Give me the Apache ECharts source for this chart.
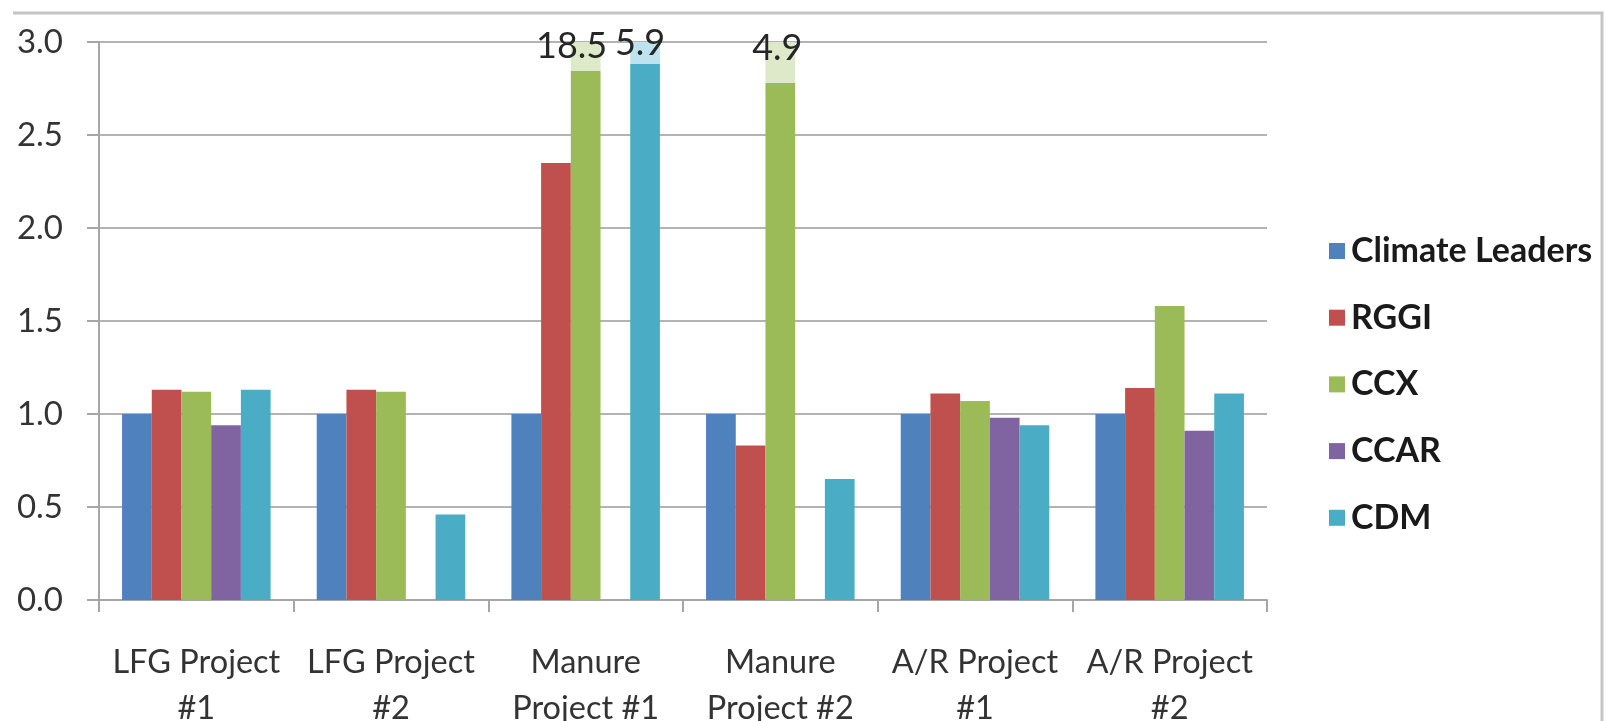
<!DOCTYPE html>
<html>
<head>
<meta charset="utf-8">
<title>Offset project comparison</title>
<script src="https://cdn.jsdelivr.net/npm/echarts@6/dist/echarts.min.js"></script>
<style>
  html, body { margin: 0; padding: 0; background: #ffffff; }
  #chart { width: 1606px; height: 721px; }
</style>
</head>
<body>
<div id="chart"></div>
<script>
// Project categories (x axis)
const categories = [
  'LFG Project\n#1', 'LFG Project\n#2', 'Manure\nProject #1',
  'Manure\nProject #2', 'A/R Project\n#1', 'A/R Project\n#2'
];

// Y-axis tick labels
const yTicks = ['0.0', '0.5', '1.0', '1.5', '2.0', '2.5', '3.0'];

// Series values per program (null = no value for that project)
const climateLeaders = [1.0, 1.0, 1.0, 1.0, 1.0, 1.0];
const rggi           = [1.13, 1.13, 2.35, 0.83, 1.11, 1.14];
const ccx            = [1.12, 1.12, 18.5, 4.9, 1.07, 1.58];
const ccar           = [0.94, null, null, null, 0.98, 0.91];
const cdm            = [1.13, 0.46, 5.9, 0.65, 0.94, 1.11];

const seriesNames = ['Climate Leaders', 'RGGI', 'CCX', 'CCAR', 'CDM'];
const seriesValues = [climateLeaders, rggi, ccx, ccar, cdm];

const colors = ['#4F81BD', '#C0504D', '#9BBB59', '#8064A2', '#4BACC6'];
const paleColors = ['#c9d7ea', '#ecc9c8', '#dde9c8', '#d8cfe3', '#bfe3ee'];

const AXIS_MAX = 3;
const FONT = 'Lato, "Open Sans", sans-serif';

// Bars that run past the axis maximum get a pale cap (fraction of the
// clipped bar height) and their true value written at the top.
const capStyle = {
  'CCX|2': { cap: 0.052, offset: [-14, 4] },
  'CDM|2': { cap: 0.04,  offset: [-5, 1] },
  'CCX|3': { cap: 0.074, offset: [-3, 6] }
};

function buildData(name, idx) {
  return seriesValues[idx].map((v, i) => {
    const key = name + '|' + i;
    if (v != null && v > AXIS_MAX && capStyle[key]) {
      const c = capStyle[key];
      return {
        value: v,
        itemStyle: {
          color: new echarts.graphic.LinearGradient(0, 0, 0, 1, [
            { offset: 0, color: paleColors[idx] },
            { offset: c.cap, color: paleColors[idx] },
            { offset: c.cap, color: colors[idx] },
            { offset: 1, color: colors[idx] }
          ])
        },
        label: {
          show: true,
          position: ['50%', 0],
          align: 'center',
          verticalAlign: 'middle',
          offset: c.offset,
          formatter: String(v),
          fontFamily: FONT,
          fontSize: 36,
          color: '#262626'
        }
      };
    }
    return v;
  });
}

const chart = echarts.init(document.getElementById('chart'), null, { renderer: 'canvas' });

const option = {
  animation: false,
  backgroundColor: '#ffffff',
  color: colors,
  grid: {
    left: 99, right: 339, top: 42, bottom: 121,
    containLabel: false,
    outerBoundsMode: 'none'
  },
  legend: {
    orient: 'vertical',
    left: 1324,
    top: 229,
    itemWidth: 16,
    itemHeight: 16,
    itemGap: 32.7,
    icon: 'rect',
    data: seriesNames,
    textStyle: {
      fontFamily: FONT,
      fontSize: 34,
      fontWeight: 'bold',
      color: '#1a1a1a',
      lineHeight: 30,
      padding: [0, 0, 0, 1]
    }
  },
  xAxis: {
    type: 'category',
    data: categories,
    axisLine: { show: true, lineStyle: { color: '#a6a6a6', width: 2 } },
    axisTick: { show: true, length: 12, alignWithLabel: false, lineStyle: { color: '#a6a6a6', width: 2 } },
    axisLabel: {
      interval: 0,
      margin: 40,
      fontFamily: FONT,
      fontSize: 32.5,
      lineHeight: 46,
      color: '#333333'
    }
  },
  yAxis: {
    type: 'value',
    min: 0,
    max: AXIS_MAX,
    interval: 0.5,
    axisLine: { show: true, lineStyle: { color: '#a6a6a6', width: 2 } },
    axisTick: { show: true, length: 12, lineStyle: { color: '#a6a6a6', width: 2 } },
    splitLine: { show: true, lineStyle: { color: '#b3b3b3', width: 2 } },
    axisLabel: {
      margin: 36,
      fontFamily: FONT,
      fontSize: 33,
      color: '#333333',
      formatter: (val) => yTicks[Math.round(val / 0.5)]
    }
  },
  series: seriesNames.map((name, idx) => ({
    name: name,
    type: 'bar',
    clip: true,
    barGap: '0%',
    barCategoryGap: '23.7%',
    data: buildData(name, idx),
    itemStyle: { color: colors[idx] },
    emphasis: { disabled: true }
  })),
  graphic: [
    // chart frame: top and right edges
    {
      type: 'polyline',
      shape: { points: [[13, 13], [1602, 13], [1602, 725]] },
      style: { stroke: '#c4c4c4', lineWidth: 3, fill: null },
      silent: true
    }
  ]
};

chart.setOption(option);
</script>
</body>
</html>
